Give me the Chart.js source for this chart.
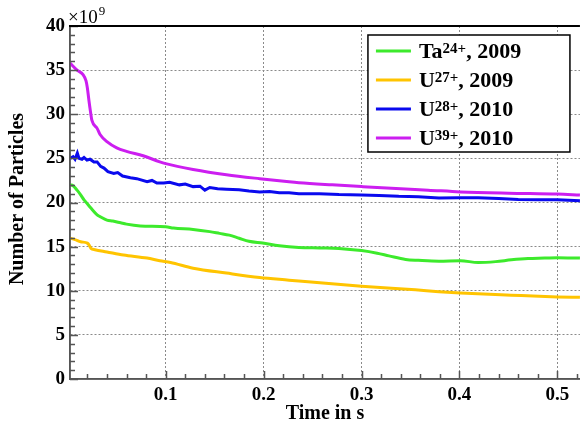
<!DOCTYPE html>
<html>
<head>
<meta charset="utf-8">
<script src="https://cdn.jsdelivr.net/npm/chart.js@4"></script>
<style>
  html, body { margin: 0; padding: 0; background: #fff; }
  #wrap { width: 582px; height: 426px; }
</style>
</head>
<body>
<div id="wrap"><canvas id="chart" width="582" height="426"></canvas></div>
<script>
// Ta24+, 2009
const timeTa = [0.0023, 0.0054, 0.0095, 0.013, 0.0166, 0.0196, 0.0234, 0.030, 0.033, 0.040, 0.046, 0.054, 0.060, 0.074, 0.100, 0.108, 0.128, 0.145, 0.155, 0.165, 0.175, 0.185, 0.199, 0.216, 0.236, 0.257, 0.277, 0.300, 0.316, 0.328, 0.345, 0.358, 0.379, 0.401, 0.419, 0.437, 0.453, 0.470, 0.487, 0.500, 0.523];
const ta24 = [22.0, 21.9, 21.4, 20.9, 20.3, 19.9, 19.4, 18.6, 18.4, 18.0, 17.9, 17.7, 17.55, 17.35, 17.25, 17.1, 16.95, 16.7, 16.5, 16.3, 15.95, 15.6, 15.4, 15.1, 14.9, 14.85, 14.8, 14.55, 14.25, 13.95, 13.55, 13.45, 13.35, 13.4, 13.2, 13.3, 13.5, 13.65, 13.7, 13.75, 13.7];

// U27+, 2009
const timeU27 = [0.0023, 0.0074, 0.0132, 0.020, 0.0217, 0.0237, 0.0278, 0.040, 0.057, 0.081, 0.094, 0.105, 0.128, 0.162, 0.196, 0.226, 0.236, 0.300, 0.355, 0.379, 0.401, 0.453, 0.500, 0.523];
const u27 = [15.95, 15.8, 15.55, 15.4, 15.2, 14.8, 14.65, 14.4, 14.05, 13.7, 13.4, 13.2, 12.55, 12.0, 11.5, 11.2, 11.1, 10.5, 10.1, 9.9, 9.75, 9.5, 9.3, 9.25];

// U28+, 2010 (noisy)
const timeU28 = [0.0023, 0.0054, 0.0074, 0.0098, 0.0115, 0.0145, 0.0166, 0.0196, 0.0227, 0.0267, 0.030, 0.0336, 0.037, 0.041, 0.047, 0.051, 0.056, 0.064, 0.0705, 0.081, 0.086, 0.091, 0.098, 0.104, 0.114, 0.120, 0.128, 0.135, 0.140, 0.145, 0.153, 0.162, 0.175, 0.185, 0.196, 0.206, 0.216, 0.226, 0.236, 0.257, 0.277, 0.300, 0.318, 0.338, 0.358, 0.379, 0.399, 0.419, 0.440, 0.460, 0.480, 0.500, 0.523];
const u28 = [25.0, 25.2, 24.9, 25.6, 25.0, 24.9, 25.1, 24.8, 24.9, 24.6, 24.6, 24.1, 23.9, 23.5, 23.3, 23.4, 23.0, 22.8, 22.7, 22.35, 22.5, 22.2, 22.2, 22.3, 22.0, 22.1, 21.8, 21.85, 21.4, 21.7, 21.55, 21.5, 21.45, 21.3, 21.2, 21.25, 21.1, 21.1, 21.0, 21.0, 20.9, 20.85, 20.8, 20.7, 20.65, 20.5, 20.55, 20.55, 20.45, 20.35, 20.3, 20.3, 20.2];

// U39+, 2010
const timeU39 = [0.0023, 0.0095, 0.0156, 0.0186, 0.020, 0.0217, 0.0232, 0.0247, 0.030, 0.033, 0.040, 0.050, 0.060, 0.077, 0.094, 0.100, 0.128, 0.162, 0.196, 0.226, 0.236, 0.270, 0.300, 0.340, 0.368, 0.401, 0.450, 0.500, 0.523];
const u39 = [35.8, 35.0, 34.5, 33.8, 33.0, 31.5, 30.3, 29.3, 28.4, 27.7, 26.9, 26.2, 25.8, 25.3, 24.6, 24.4, 23.75, 23.15, 22.7, 22.35, 22.25, 22.0, 21.8, 21.55, 21.4, 21.2, 21.05, 20.95, 20.85];

const legendIon = ['Ta', 'U', 'U', 'U'];
const legendCharge = ['24+', '27+', '28+', '39+'];
const legendYear = ['2009', '2009', '2010', '2010'];
const seriesColors = ['#3dea2c', '#ffc400', '#0a0aee', '#cc1ef0'];

const FONT = '"Liberation Serif", "Times New Roman", serif';
const AXIS = '#555';
const GRID = '#8a8a8a';
const X_MIN = 0.0023;
const X_MAX = 0.523;

const xTickValues = [];
for (let k = 1; k <= 26; k++) xTickValues.push(k * 0.02);
const yTickValues = [];
for (let k = 0; k <= 40; k++) yTickValues.push(k);

const isMajorX = v => Math.round(v * 50) % 5 === 0;
const isMajorY = v => Math.round(v) % 5 === 0;

const toPoints = (ts, vs) => ts.map((t, i) => ({ x: t, y: vs[i] }));
const seriesData = [toPoints(timeTa, ta24), toPoints(timeU27, u27), toPoints(timeU28, u28), toPoints(timeU39, u39)];

const framePlugin = {
  id: 'frame',
  afterDraw(chart) {
    const { ctx, chartArea: a, scales: { x, y } } = chart;
    ctx.save();

    // solid axis lines
    ctx.strokeStyle = AXIS;
    ctx.lineWidth = 1.5;
    ctx.beginPath();
    ctx.moveTo(a.left, a.top);
    ctx.lineTo(a.left, a.bottom);
    ctx.lineTo(a.right, a.bottom);
    ctx.stroke();

    // tick marks pointing into the plot
    ctx.beginPath();
    xTickValues.forEach(v => {
      const px = Math.round(x.getPixelForValue(v)) + 0.5;
      ctx.moveTo(px, a.bottom);
      ctx.lineTo(px, a.bottom - (isMajorX(v) ? 8 : 5));
    });
    yTickValues.forEach(v => {
      const py = Math.round(y.getPixelForValue(v)) + 0.5;
      ctx.moveTo(a.left, py);
      ctx.lineTo(a.left + (isMajorY(v) ? 8 : 5), py);
    });
    ctx.stroke();

    // top frame line
    ctx.strokeStyle = '#000';
    ctx.lineWidth = 2;
    ctx.beginPath();
    ctx.moveTo(a.left - 1, a.top);
    ctx.lineTo(a.right, a.top);
    ctx.stroke();

    // exponent label
    ctx.fillStyle = '#000';
    ctx.textAlign = 'left';
    ctx.textBaseline = 'alphabetic';
    ctx.font = `19px ${FONT}`;
    ctx.fillText('\u00d710', a.left - 2, 23);
    const ew = ctx.measureText('\u00d710').width;
    ctx.font = `13px ${FONT}`;
    ctx.fillText('9', a.left - 1 + ew, 15);

    // y axis title
    ctx.save();
    ctx.translate(18, 199);
    ctx.rotate(-Math.PI / 2);
    ctx.font = `bold 20px ${FONT}`;
    ctx.textAlign = 'center';
    ctx.textBaseline = 'middle';
    ctx.fillText('Number of Particles', 0, 0);
    ctx.restore();

    // legend
    const lx = a.right - 212, ly = a.top + 9, lw = 202, lh = 117;
    ctx.fillStyle = '#fff';
    ctx.fillRect(lx, ly, lw, lh);
    ctx.strokeStyle = '#000';
    ctx.lineWidth = 1.5;
    ctx.strokeRect(lx, ly, lw, lh);
    legendIon.forEach((ion, i) => {
      const base = ly + 23 + i * 29;
      ctx.strokeStyle = seriesColors[i];
      ctx.lineWidth = 3;
      ctx.beginPath();
      ctx.moveTo(lx + 8, base - 7);
      ctx.lineTo(lx + 43, base - 7);
      ctx.stroke();
      ctx.fillStyle = '#000';
      ctx.textAlign = 'left';
      ctx.textBaseline = 'alphabetic';
      let tx = lx + 51;
      ctx.font = `bold 22px ${FONT}`;
      ctx.fillText(ion, tx, base);
      tx += ctx.measureText(ion).width;
      ctx.font = `bold 15px ${FONT}`;
      ctx.fillText(legendCharge[i], tx, base - 5);
      tx += ctx.measureText(legendCharge[i]).width;
      ctx.font = `bold 22px ${FONT}`;
      ctx.fillText(', ' + legendYear[i], tx, base);
    });

    ctx.restore();
  }
};

new Chart(document.getElementById('chart'), {
  type: 'line',
  data: {
    datasets: seriesData.map((pts, i) => ({
      label: `${legendIon[i]}${legendCharge[i]}, ${legendYear[i]}`,
      data: pts,
      borderColor: seriesColors[i],
      borderWidth: 3,
      pointRadius: 0,
      fill: false,
      cubicInterpolationMode: i === 2 ? 'default' : 'monotone',
      tension: 0
    }))
  },
  options: {
    responsive: false,
    animation: false,
    layout: { padding: { top: 26, left: 0, right: 0, bottom: 0 } },
    plugins: { legend: { display: false }, tooltip: { enabled: false } },
    scales: {
      x: {
        type: 'linear',
        min: X_MIN,
        max: X_MAX,
        afterBuildTicks: s => { s.ticks = xTickValues.map(v => ({ value: v })); },
        afterFit: s => { s.height = 47; },
        grid: {
          drawTicks: false,
          lineWidth: 1,
          color: c => (c.tick && isMajorX(c.tick.value)) ? GRID : 'rgba(0,0,0,0)'
        },
        border: { color: AXIS, width: 1.5, dash: [2, 2] },
        ticks: {
          autoSkip: false,
          maxRotation: 0,
          padding: 5,
          color: '#000',
          font: { family: FONT, size: 19, weight: 'bold' },
          callback: v => isMajorX(v) ? v.toFixed(1) : ''
        },
        title: {
          display: true,
          text: 'Time in s',
          color: '#000',
          font: { family: FONT, size: 20, weight: 'bold' },
          padding: { top: 0, bottom: 0 }
        }
      },
      y: {
        min: 0,
        max: 40,
        afterBuildTicks: s => { s.ticks = yTickValues.map(v => ({ value: v })); },
        afterFit: s => { s.width = 70; },
        grid: {
          drawTicks: false,
          lineWidth: 1,
          color: c => (c.tick && isMajorY(c.tick.value) && c.tick.value > 0 && c.tick.value < 40) ? GRID : 'rgba(0,0,0,0)'
        },
        border: { color: AXIS, width: 1.5, dash: [2, 2] },
        ticks: {
          autoSkip: false,
          padding: 5,
          color: '#000',
          font: { family: FONT, size: 19, weight: 'bold' },
          callback: v => isMajorY(v) ? String(v) : ''
        }
      }
    }
  },
  plugins: [framePlugin]
});
</script>
</body>
</html>
